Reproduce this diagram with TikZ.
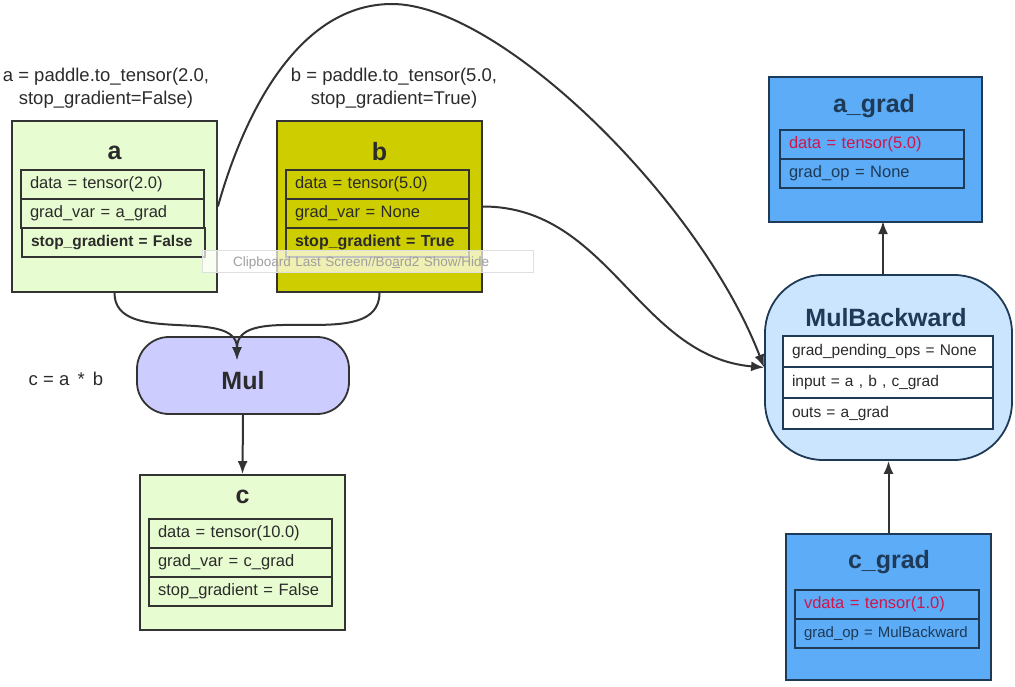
\documentclass[tikz,border=0pt]{standalone}
\usepackage{fontspec}
\setmainfont{Liberation Sans}
\usetikzlibrary{arrows.meta, positioning, calc}
\definecolor{inkline}{HTML}{333333}
\definecolor{inktext}{HTML}{2B2B2B}
\definecolor{varfill}{HTML}{E8FCD1}
\definecolor{constfill}{HTML}{CDCD00}
\definecolor{opfill}{HTML}{CCCCFF}
\definecolor{gradfill}{HTML}{5CACF8}
\definecolor{gradline}{HTML}{1E3A56}
\definecolor{backfill}{HTML}{CCE5FF}
\definecolor{hotred}{HTML}{D0154B}
\newcommand{\fieldfont}{\fontsize{16.5}{19}\selectfont}
\newcommand{\titlefont}{\fontsize{25}{29}\selectfont\bfseries}
\newcommand{\notefont}{\fontsize{18.5}{23}\selectfont}
\newcommand{\holder}[7]{%
  \node[draw=#7, line width=1.8pt, fill=#6, minimum width=#4pt,
        minimum height=#5pt] (#1) at (#2,#3) {};}
\tikzset{
  field/.style={draw=inkline, line width=1.8pt, outer sep=0pt, text width=#1,
    minimum height=29pt, inner xsep=9pt, inner ysep=0pt, align=left,
    font=\fieldfont, text=inktext},
  title/.style={font=\titlefont, text=inktext},
  note/.style={font=\notefont, text=inktext, align=center},
  wire/.style={inkline, line width=2pt, -{Latex[length=13pt, width=10pt]}},
  clipbar/.style={fill=white, fill opacity=0.7, text opacity=1, draw=gray!25,
    minimum height=22pt, inner ysep=0pt, inner xsep=31pt, text width=269pt,
    text height=10pt, text depth=0pt,
    align=left, text=gray!75, font=\fontsize{13.5}{15}\selectfont}
}

\begin{document}
\begin{tikzpicture}[x=1pt, y=-1pt]
  \useasboundingbox (0,0) rectangle (1015,687);

  % forward side
  \node[note] (a-note) at (106,88) {a = paddle.to\_tensor(2.0,\\ stop\_gradient=False)};
  \node[note] (b-note) at (394,88) {b = paddle.to\_tensor(5.0,\\ stop\_gradient=True)};
  \node[note] (c-note) at (66,379) {c = a \,*\, b};

  \holder{a}{114.5}{206.5}{205}{171}{varfill}{inkline}
  \node[title] (a-title) at (114.5,153) {a};
  \node[field=165pt, anchor=north west] (a-data) at (21,170) {data = tensor(2.0)};
  \node[field=165pt, below=0pt of a-data] (a-grad) {grad\_var = a\_grad};
  \node[field=165pt, below=0pt of a-grad, xshift=1pt, font=\fontsize{15.5}{19}\selectfont\bfseries]
    (a-stop) {stop\_gradient = False};

  \holder{b}{379.5}{206.5}{205}{171}{constfill}{inkline}
  \node[title] (b-title) at (379.5,152) {b};
  \node[field=165pt, anchor=north west] (b-data) at (286,170) {data = tensor(5.0)};
  \node[field=165pt, below=0pt of b-data] (b-grad) {grad\_var = None};
  \node[field=165pt, below=0pt of b-grad, font=\fontsize{16}{19}\selectfont\bfseries]
    (b-stop) {stop\_gradient = True};

  \node[draw=inkline, line width=1.8pt, fill=opfill, rounded corners=32pt,
        minimum width=212pt, minimum height=77pt, font=\titlefont, text=inktext,
        text height=28pt, text depth=0pt] (mul) at (243,375.5) {Mul};
  \coordinate (mul-in) at (237,360);

  \holder{c}{242.5}{552.5}{205}{155}{varfill}{inkline}
  \node[title] (c-title) at (242.5,497) {c};
  \node[field=165pt, anchor=north west] (c-data) at (149,519) {data = tensor(10.0)};
  \node[field=165pt, below=0pt of c-data] (c-grad) {grad\_var = c\_grad};
  \node[field=165pt, below=0pt of c-grad] (c-stop) {stop\_gradient = False};

  % backward side
  \holder{agrad}{875.5}{149.5}{213}{145}{gradfill}{gradline}
  \node[title, text=gradline] (agrad-title) at (874,106) {a\_grad};
  \node[field=166pt, draw=gradline, text=hotred, anchor=north west] (agrad-data) at (780,130) {data = tensor(5.0)};
  \node[field=166pt, draw=gradline, text=gradline, below=0pt of agrad-data] (agrad-op) {grad\_op = None};

  \node[draw=gradline, line width=1.8pt, fill=backfill, rounded corners=58pt,
        minimum width=247pt, minimum height=185pt] (mb) at (888.5,367.5) {};
  \node[title, text=gradline] (mb-title) at (886,318) {MulBackward};
  \node[field=192pt, draw=gradline, fill=white, minimum height=31pt, font=\fontsize{15.5}{19}\selectfont,
        anchor=north west] (mb-pend) at (783,336) {grad\_pending\_ops = None};
  \node[field=192pt, draw=gradline, fill=white, minimum height=31pt, font=\fontsize{15.5}{19}\selectfont,
        below=0pt of mb-pend] (mb-input) {input = a , b , c\_grad};
  \node[field=192pt, draw=gradline, fill=white, minimum height=31pt, font=\fontsize{15.5}{19}\selectfont,
        below=0pt of mb-input] (mb-outs) {outs = a\_grad};

  \holder{cgrad}{888.5}{607}{205}{146}{gradfill}{gradline}
  \node[title, text=gradline] (cgrad-title) at (889,562) {c\_grad};
  \node[field=166pt, draw=gradline, text=hotred, anchor=north west] (cgrad-data) at (795,590) {vdata = tensor(1.0)};
  \node[field=166pt, draw=gradline, text=gradline, font=\fontsize{15}{18}\selectfont,
        below=0pt of cgrad-data] (cgrad-op) {grad\_op = MulBackward};

  % connectors
  \draw[wire] (a.south) to[out=-90, in=90] (mul-in);
  \draw[wire] (b.south) to[out=-90, in=90] (mul-in);
  \draw[wire] (mul.south) -- (c.north);
  \draw[wire] (a.east) .. controls (245,110) and (300,4) .. (392,4)
                       .. controls (500,4) and (700,200) .. (mb.west);
  \draw[wire] (b.east) to[out=0, in=175] (mb.west);
  \draw[wire] (mb.north -| agrad-op.south) ++(11,0) -- ++(0,-53);
  \draw[wire] (cgrad.north) -- (mb.south);

  \node[clipbar, anchor=west] (clip) at (202,261) {Clipboard Last Screen//Bo\underline{a}rd2 Show/Hide};
\end{tikzpicture}
\end{document}
